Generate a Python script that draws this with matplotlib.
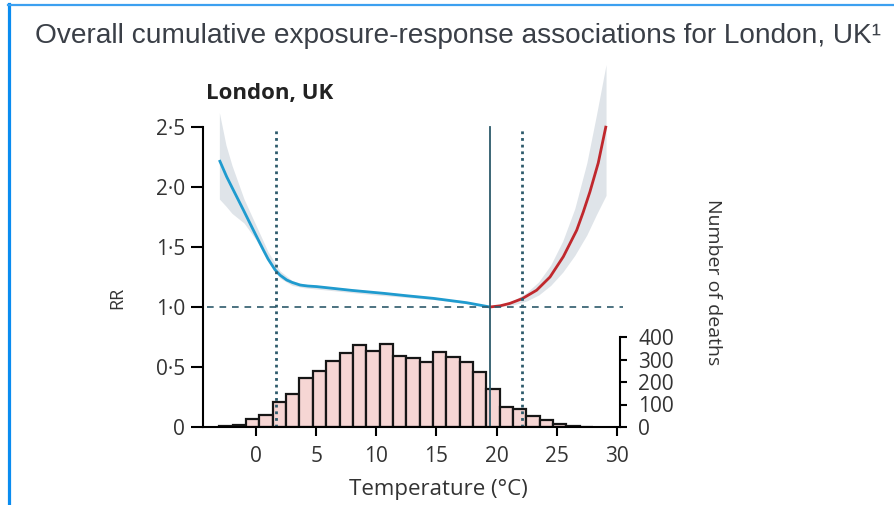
import matplotlib.pyplot as plt
from matplotlib.lines import Line2D
import numpy as np

# exposure-response curve, cold side (blue) and hot side (red), RR vs temperature
temp_cold = [-3.05, -2.44, -1.89, -1.06, -0.22, 0.61, 1.0, 1.58, 2.0, 2.55, 3.0, 3.66,
             4.3, 5.04, 6.43, 8.0, 10.6, 12.5, 14.74, 17.5, 19.45]
rr_cold = [2.225, 2.085, 1.975, 1.81, 1.64, 1.475, 1.40, 1.31, 1.265, 1.225, 1.205, 1.183,
           1.175, 1.17, 1.155, 1.138, 1.114, 1.094, 1.072, 1.036, 1.0]
temp_hot = [19.45, 20.3, 21.1, 22.14, 23.33, 24.44, 25.55, 26.66, 27.2, 27.76, 28.45, 29.1]
rr_hot = [1.0, 1.01, 1.03, 1.07, 1.14, 1.25, 1.42, 1.64, 1.79, 1.96, 2.2, 2.51]

# confidence band
band_temp = [-3.05, -2.5, -2.0, -1.0, 0.0, 1.0, 2.0, 3.0, 4.0, 6.0, 10.0, 15.0, 19.45,
             20.5, 21.5, 22.5, 23.5, 24.5, 25.5, 26.5, 27.5, 28.3, 29.1]
band_hi = [2.62, 2.35, 2.18, 1.90, 1.68, 1.46, 1.30, 1.22, 1.19, 1.17, 1.13, 1.08, 1.0,
           1.02, 1.06, 1.12, 1.21, 1.35, 1.55, 1.82, 2.20, 2.60, 3.02]
band_lo = [1.90, 1.84, 1.78, 1.70, 1.56, 1.38, 1.24, 1.18, 1.16, 1.14, 1.10, 1.06, 1.0,
           1.005, 1.02, 1.05, 1.10, 1.18, 1.29, 1.43, 1.60, 1.77, 1.93]

# histogram of daily deaths by temperature
bin_edges = np.linspace(-3.05, 28.03, 29)
deaths = [6, 10, 35, 52, 109, 147, 217, 250, 292, 327, 365, 336, 371, 315,
          306, 289, 335, 309, 289, 245, 169, 91, 82, 47, 32, 12, 5, 2]

mmt = 19.45            # minimum mortality temperature
pct_lo, pct_hi = 1.66, 22.15

x_ticks = [0, 5, 10, 15, 20, 25, 30]
rr_ticks = [0, 0.5, 1.0, 1.5, 2.0, 2.5]
rr_labels = ['0', '0·5', '1·0', '1·5', '2·0', '2·5']
death_ticks = [0, 100, 200, 300, 400]

txt = '#333333'
line_col = '#2d5a6b'
font = 'Open Sans'
tick_fs = 15

fig = plt.figure(figsize=(8.95, 5.05), dpi=100)

# slide frame
fig.add_artist(Line2D([9.5 / 895, 9.5 / 895], [0, 1 - 4 / 505], color='#0a8cf0', lw=2.3))
fig.add_artist(Line2D([8 / 895, 1], [1 - 5 / 505, 1 - 5 / 505], color='#3ca0f0', lw=1.6))
fig.text(35 / 895, 1 - 36 / 505, 'Overall cumulative exposure-response associations for London, UK\u00b9',
         fontsize=20.2, color='#3a3f47', family='Liberation Sans', va='center', ha='left')

ax = fig.add_axes([203 / 895, 78 / 505, 417 / 895, 366 / 505])
ax2 = ax.twinx()
ax2.set_zorder(ax.get_zorder() - 1)
ax.patch.set_visible(False)

ax2.bar(bin_edges[:-1], deaths, width=np.diff(bin_edges), align='edge',
        color='#f6d6d4', edgecolor='#161616', linewidth=1.6)
ax2.set_ylim(0, 400 * 3.05 / 0.75)
ax2.set_yticks(death_ticks)
ax2.spines['right'].set_bounds(0, 400)
for s in ['top', 'left', 'bottom']:
    ax2.spines[s].set_visible(False)
ax2.spines['right'].set_linewidth(1.5)
ax2.tick_params(axis='y', direction='out', length=5, width=1.5, pad=8,
                labelsize=tick_fs, labelcolor=txt)
for lab in ax2.get_yticklabels():
    lab.set_family(font)

ax.fill_between(band_temp, band_lo, band_hi, color='#dfe4e9', lw=0)
ax.plot(temp_cold, rr_cold, color='#1f9bcf', lw=2.0, solid_capstyle='butt')
ax.plot(temp_hot, rr_hot, color='#c0282d', lw=2.0, solid_capstyle='butt')

ax.plot([-4.1, 30.5], [1, 1], color=line_col, lw=1.2, ls=(0, (4, 3.5)), clip_on=False)
ax.plot([mmt, mmt], [0, 2.5], color=line_col, lw=1.3)
for t in [pct_lo, pct_hi]:
    ax.plot([t, t], [0, 2.5], color=line_col, lw=2.0, ls=(0, (1, 1.4)))

ax.set_xlim(-4.41, 30.26)
ax.set_ylim(0, 3.05)
ax.set_xticks(x_ticks)
ax.set_yticks(rr_ticks)
ax.set_yticklabels(rr_labels)
ax.spines['top'].set_visible(False)
ax.spines['right'].set_visible(False)
ax.spines['left'].set_bounds(0, 2.5)
ax.spines['left'].set_linewidth(1.5)
ax.spines['bottom'].set_linewidth(1.5)
ax.tick_params(axis='y', direction='out', length=9, width=1.5, pad=4,
               labelsize=tick_fs, labelcolor=txt)
ax.tick_params(axis='x', direction='out', length=6.5, width=1.5, pad=7,
               labelsize=tick_fs, labelcolor=txt)
for lab in ax.get_xticklabels() + ax.get_yticklabels():
    lab.set_family(font)

ax.text(15.2, -0.52, 'Temperature (°C)', ha='center', va='center', fontsize=16,
        color=txt, family=font)
ax.text(-11.5, 1.08, 'RR', rotation=90, ha='center', va='center', fontsize=13,
        color=txt, family=font)
ax.text(-4.2, 2.78, 'London, UK', ha='left', va='center', fontsize=16,
        fontweight='bold', color='#222222', family=font)
fig.text(713 / 895, 1 - 282 / 505, 'Number of deaths', rotation=270, ha='center',
         va='center', fontsize=14, color=txt, family=font)

fig.savefig('out.png', dpi=100)
